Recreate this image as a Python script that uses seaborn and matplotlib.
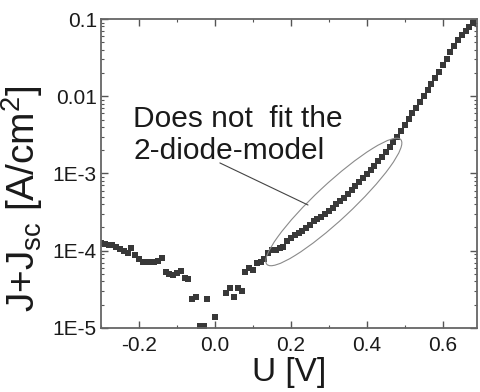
import matplotlib
matplotlib.use("Agg")
import matplotlib.pyplot as plt
import matplotlib.transforms as mtransforms
from matplotlib.patches import Ellipse
from matplotlib.ticker import MultipleLocator, LogLocator, NullFormatter
import seaborn as sns
import pandas as pd

# measured J-V curve (voltage in V, J+Jsc in A/cm^2)
U = [-0.30, -0.29, -0.28, -0.27, -0.26, -0.25, -0.24, -0.23, -0.22, -0.21,
     -0.20, -0.19, -0.18, -0.17, -0.16, -0.15, -0.14, -0.13, -0.12, -0.11,
     -0.10, -0.09, -0.08, -0.07, -0.06, -0.05, -0.04, -0.03, -0.02, 0.00,
     0.03, 0.04, 0.05, 0.06, 0.07, 0.08, 0.09, 0.10, 0.11, 0.12,
     0.13, 0.14, 0.15, 0.16, 0.17, 0.18, 0.19, 0.20, 0.21, 0.22,
     0.23, 0.24, 0.25, 0.26, 0.27, 0.28, 0.29, 0.30, 0.31, 0.32,
     0.33, 0.34, 0.35, 0.36, 0.37, 0.38, 0.39, 0.40, 0.41, 0.42,
     0.43, 0.44, 0.45, 0.46, 0.47, 0.48, 0.49, 0.50, 0.51, 0.52,
     0.53, 0.54, 0.55, 0.56, 0.57, 0.58, 0.59, 0.60, 0.61, 0.62,
     0.63, 0.64, 0.65, 0.66, 0.67, 0.68]
J = [1.26e-4, 1.22e-4, 1.19e-4, 1.19e-4, 1.12e-4, 1.05e-4, 9.9e-5, 9.35e-5, 1.09e-4, 8.8e-5,
     7.8e-5, 7.15e-5, 7.15e-5, 7.15e-5, 7.15e-5, 7.37e-5, 8.05e-5, 5.3e-5, 5.0e-5, 4.85e-5,
     5.15e-5, 5.47e-5, 4.44e-5, 4.3e-5, 2.37e-5, 2.52e-5, 1.05e-5, 1.05e-5, 2.37e-5, 1.39e-5,
     2.84e-5, 3.3e-5, 2.52e-5, 3.3e-5, 3.01e-5, 5.3e-5, 5.98e-5, 5.64e-5, 6.93e-5, 7.15e-5,
     7.8e-5, 9.35e-5, 1.02e-4, 1.02e-4, 1.09e-4, 1.12e-4, 1.34e-4, 1.46e-4, 1.60e-4, 1.70e-4,
     1.80e-4, 1.97e-4, 2.15e-4, 2.43e-4, 2.58e-4, 2.74e-4, 2.99e-4, 3.27e-4, 3.58e-4, 4.03e-4,
     4.41e-4, 4.82e-4, 5.43e-4, 6.11e-4, 6.89e-4, 7.76e-4, 8.75e-4, 9.86e-4, 1.11e-3, 1.25e-3,
     1.45e-3, 1.64e-3, 1.90e-3, 2.20e-3, 2.56e-3, 2.97e-3, 3.55e-3, 4.25e-3, 5.08e-3, 6.07e-3,
     7.05e-3, 8.43e-3, 1.01e-2, 1.21e-2, 1.44e-2, 1.72e-2, 2.06e-2, 2.54e-2, 3.03e-2, 3.74e-2,
     4.47e-2, 5.35e-2, 6.21e-2, 7.0e-2, 7.88e-2, 8.87e-2]

x_ticks = [-0.2, 0.0, 0.2, 0.4, 0.6]
x_tick_labels = ["-0.2", "0.0", "0.2", "0.4", "0.6"]
y_ticks = [1e-5, 1e-4, 1e-3, 1e-2, 1e-1]
y_tick_labels = ["1E-5", "1E-4", "1E-3", "0.01", "0.1"]
note = "Does not  fit the\n2-diode-model"

sns.set_theme(style="ticks")
plt.rcParams["font.family"] = ["Liberation Sans", "DejaVu Sans"]
plt.rcParams["mathtext.default"] = "regular"

df = pd.DataFrame({"U": U, "J": J})

fig = plt.figure(figsize=(4.8, 3.92), dpi=100)
ax = fig.add_axes([0.2104, 0.1633, 0.7834, 0.7882])

sns.scatterplot(data=df, x="U", y="J", ax=ax, marker="s", s=16,
                color="#383838", linewidth=0, legend=False)

ax.set_yscale("log")
ax.set_xlim(-0.3, 0.69)
ax.set_ylim(1e-5, 0.1)

ax.set_xticks(x_ticks, x_tick_labels)
ax.set_yticks(y_ticks, y_tick_labels)
ax.xaxis.set_minor_locator(MultipleLocator(0.1))
ax.yaxis.set_minor_locator(LogLocator(base=10, subs=range(2, 10)))
ax.yaxis.set_minor_formatter(NullFormatter())

ax.tick_params(which="both", direction="in", top=True, right=True,
               color="#555555", labelcolor="#1a1a1a", labelsize=15)
ax.tick_params(axis="x", which="major", length=5, width=1, pad=6)
ax.tick_params(axis="y", which="major", length=5, width=1, pad=3)
ax.tick_params(which="minor", length=2.5, width=0.8)
for sp in ax.spines.values():
    sp.set_color("#666666")
    sp.set_linewidth(1.3)

ax.set_xlabel("U [V]", fontsize=24, color="#1a1a1a")
ax.set_ylabel("J+J$_{sc}$ [A/cm$^2$]", fontsize=28, color="#1a1a1a")
ax.xaxis.set_label_coords(0.5, -0.095)
ax.yaxis.set_label_coords(-0.15, 0.42)

# annotation: ellipse around the region that deviates from the model
shift = mtransforms.ScaledTranslation(0.313, 4.28e-4, ax.transData)
ell = Ellipse((0, 0), width=1.83, height=0.36, angle=43, fill=False,
              edgecolor="#8a8a8a", linewidth=0.8,
              transform=fig.dpi_scale_trans + shift)
ax.add_patch(ell)
ax.annotate("", xy=(0.245, 3.91e-4), xytext=(0.013, 1.37e-3),
            arrowprops=dict(arrowstyle="-", color="#444444", lw=0.8,
                            shrinkA=0, shrinkB=0))
ax.text(-0.215, 7.8e-3, note, fontsize=21.5, color="#1a1a1a",
        ha="left", va="top", linespacing=1.2)

fig.savefig("out.png", dpi=100)
